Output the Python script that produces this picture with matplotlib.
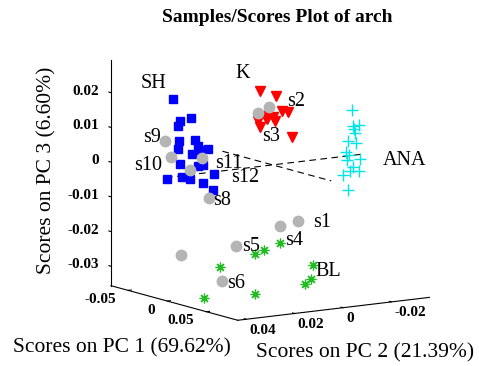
import numpy as np
import matplotlib
matplotlib.use('Agg')
import matplotlib.pyplot as plt
from mpl_toolkits.mplot3d import proj3d
from matplotlib.transforms import IdentityTransform

plt.rcParams['font.family'] = ['Liberation Serif', 'DejaVu Serif']

# ---------------- data (PC1, PC2, PC3 scores) ----------------
sh_pc1 = [0.004, -0.003, 0.006, -0.005, 0.002, -0.007, 0.000, 0.008, -0.004, 0.003,
          -0.002, 0.005, -0.006, 0.001, 0.007, -0.001, 0.004, -0.005, 0.002, -0.003]
sh_pc2 = [0.0426, 0.0371, 0.0357, 0.0373, 0.0393, 0.0367, 0.0319, 0.0336, 0.0318, 0.0311,
          0.0259, 0.0397, 0.0287, 0.0289, 0.0264, 0.0431, 0.0389, 0.0326, 0.0292, 0.0237]
sh_pc3 = [0.0228, 0.0156, 0.0168, 0.0139, 0.0103, 0.0072, 0.0099, 0.0088, 0.0055, 0.0071,
          0.0066, 0.0038, 0.0016, 0.0025, 0.0000, -0.0005, -0.0001, -0.0016, -0.0027, -0.0054]

k_pc1 = [-0.060, -0.055, -0.062, -0.058, -0.064, -0.057, -0.061, -0.054, -0.059, -0.056, -0.063]
k_pc2 = [-0.0141, -0.0194, -0.0239, -0.0251, -0.0209, -0.0152, -0.0206, -0.0115, -0.0141, -0.0262, -0.0181]
k_pc3 = [0.0165, 0.0149, 0.0096, 0.0096, 0.0081, 0.0094, 0.0071, 0.0083, 0.0061, 0.0024, 0.0079]

ana_pc1 = [0.004, -0.002, 0.006, 0.001, 0.008, -0.004, 0.003, 0.005, -0.003, 0.007,
           0.000, 0.006, -0.001, 0.002, 0.004, -0.002]
ana_pc2 = [-0.0314, -0.0338, -0.0337, -0.0335, -0.0317, -0.0323, -0.0336, -0.0288, -0.0327, -0.0337,
           -0.0306, -0.0312, -0.0362, -0.0314, -0.0277, -0.0317]
ana_pc3 = [0.0133, 0.0083, 0.0091, 0.0076, 0.0071, 0.0040, 0.0036, 0.0017, 0.0000, -0.0008,
           -0.0011, -0.0027, -0.0047, -0.0042, -0.0050, -0.0100]

bl_pc1 = [0.072, 0.068, 0.075, 0.066, 0.070, 0.074, 0.069, 0.073, 0.045]
bl_pc2 = [0.0203, 0.0256, 0.0315, 0.0431, 0.0059, 0.0082, 0.0091, 0.0309, 0.0429]
bl_pc3 = [-0.0163, -0.0182, -0.0185, -0.0219, -0.0241, -0.0275, -0.0294, -0.0300, -0.0319]

sample_names = ['s1', 's2', 's3', 's4', 's5', 's6', 's7', 's8', 's9', 's10', 's11', 's12']
sample_pc1 = [0.040, -0.045, -0.040, 0.045, 0.040, 0.050, 0.015, 0.010, -0.010, -0.005, 0.000, 0.005]
sample_pc2 = [0.0025, -0.0131, -0.0068, 0.0113, 0.0280, 0.0370, 0.0428, 0.0297, 0.0414, 0.0402, 0.0290, 0.0358]
sample_pc3 = [-0.0135, 0.0127, 0.0119, -0.0140, -0.0185, -0.0273, -0.0214, -0.0065, 0.0096, 0.0053, 0.0045, 0.0019]
sample_shown = [True, True, True, True, True, True, False, True, True, True, True, True]

xlim = (-0.072, 0.090)
ylim = (0.0435, -0.0357)   # PC2 reversed
zlim = (-0.0356, 0.0295)
xticks = [-0.05, 0, 0.05]
xticklabels = ['-0.05', '0', '0.05']
yticks = [0.04, 0.02, 0, -0.02]
yticklabels = ['0.04', '0.02', '0', '-0.02']
zticks = [-0.03, -0.02, -0.01, 0, 0.01, 0.02]
zticklabels = ['-0.03', '-0.02', '-0.01', '0', '0.01', '0.02']

# label offsets (pixels, x right / y down) and alignment -- styling only
label_off = [(15, 1), (18, -6), (4, 23), (5, 14), (6, 1), (5, 2), (0, 0), (5, 2),
             (-4, -4), (-9, 8), (13, 6), (41, 8)]
label_ha = ['left'] * 8 + ['right', 'right', 'left', 'left']

W, H = 479, 366
fig = plt.figure(figsize=(W / 100, H / 100), dpi=100)
ax = fig.add_axes([0, 0, 1, 1], projection='3d', proj_type='ortho')
ax.set_box_aspect((1, 1, 1), zoom=1)
ax.view_init(elev=10.4, azim=-33.5)
ax.set_xlim(*xlim)
ax.set_ylim(*ylim)
ax.set_zlim(*zlim)

for a in (ax.xaxis, ax.yaxis, ax.zaxis):
    a.set_pane_color((1, 1, 1, 0))
    a.pane.set_edgecolor((1, 1, 1, 0))
    a.line.set_color('black')
    a.line.set_linewidth(0.8)
    a._axinfo['tick']['inward_factor'] = 0.0
    a._axinfo['tick']['outward_factor'] = 0.2
    a._axinfo['tick']['linewidth'] = {True: 0.8, False: 0.5}
    a._axinfo['tick']['color'] = 'black'
    a.set_tick_params(which='both', labelbottom=False, labeltop=False)
    a.label.set_visible(False)
    a.offsetText.set_visible(False)
ax.grid(False)
ax.zaxis.set_ticks_position('upper')
ax.zaxis.set_label_position('upper')

ax.set_xticks(xticks)
ax.set_yticks(yticks)
ax.set_zticks(zticks)

# zero lines spanning the data range
all_pc1 = np.concatenate([sh_pc1, k_pc1, ana_pc1, bl_pc1, sample_pc1])
all_pc2 = np.concatenate([sh_pc2, k_pc2, ana_pc2, bl_pc2, sample_pc2])
ax.plot([all_pc1.min(), all_pc1.max()], [0, 0], [0, 0], color='black', lw=0.8, ls=(0, (6, 4)))
ax.plot([0, 0], [all_pc2.min(), all_pc2.max()], [0, 0], color='black', lw=0.8, ls=(0, (6, 4)))

ax.plot(sh_pc1, sh_pc2, sh_pc3, ls='none', marker='s', ms=6, color='#0000ff', mec='#0000ff')
ax.plot(k_pc1, k_pc2, k_pc3, ls='none', marker='v', ms=7, color='#ff0000', mec='#ff0000')
ax.plot(ana_pc1, ana_pc2, ana_pc3, ls='none', marker='+', ms=8, mew=1.0, color='#00e5e5')
ax.plot(bl_pc1, bl_pc2, bl_pc3, ls='none', marker=(8, 2, 0), ms=7, mew=0.9, color='#22bb22', mec='#22bb22')
ax.plot(sample_pc1, sample_pc2, sample_pc3, ls='none', marker='o', ms=7.5, color='#b4b4b4', mec='#b4b4b4')

# --- fit the 3D box to the reference layout ---
def to_px(x, y, z):
    xs, ys, _ = proj3d.proj_transform(np.array([x]), np.array([y]), np.array([z]), ax.get_proj())
    return ax.transData.transform(np.column_stack([xs, ys]))[0]

fig.canvas.draw()
pA = to_px(xlim[0], ylim[0], zlim[0])
pD = to_px(xlim[0], ylim[0], zlim[1])
L = np.hypot(*(pD - pA))
ax.set_box_aspect((1, 1, 1), zoom=226.0 / L)
fig.canvas.draw()
targets = np.array([[112.5, H - 286], [112.5, H - 60], [236.5, H - 320], [427.5, H - 297]], float)
cur = np.array([to_px(xlim[0], ylim[0], zlim[0]), to_px(xlim[0], ylim[0], zlim[1]),
                to_px(xlim[1], ylim[0], zlim[0]), to_px(xlim[1], ylim[1], zlim[0])])
d = (targets - cur).mean(axis=0)
ax.set_position([d[0] / W, d[1] / H, 1, 1])
fig.canvas.draw()


def label_at(x, y, z, s, dx, dy, **kw):
    """Place a 2D text at the projected position of a 3D data point, offset in pixels."""
    p = to_px(x, y, z)
    fig.text(p[0] + dx, p[1] - dy, s, transform=IdentityTransform(), **kw)


tick_font = dict(fontsize=11, fontweight='bold', va='center')
for v, s in zip(xticks, xticklabels):
    label_at(v, ylim[0], zlim[0], s, -12, 9, ha='right', **tick_font)
for v, s in zip(yticks, yticklabels):
    label_at(xlim[1], v, zlim[0], s, 3, 11, ha='left', **tick_font)
for v, s in zip(zticks, zticklabels):
    label_at(xlim[0], ylim[0], v, s, -12, -1.5, ha='right', **tick_font)

for i, name in enumerate(sample_names):
    if not sample_shown[i]:
        continue
    dx, dy = label_off[i]
    label_at(sample_pc1[i], sample_pc2[i], sample_pc3[i], name, dx, dy,
             ha=label_ha[i], va='center', fontsize=14.5)

fig.text(153 / W, 1 - 83 / H, 'SH', ha='center', va='center', fontsize=14.5)
fig.text(243 / W, 1 - 73 / H, 'K', ha='center', va='center', fontsize=14.5)
fig.text(405 / W, 1 - 161 / H, 'ANA', ha='center', va='center', fontsize=14.5)
fig.text(328 / W, 1 - 271 / H, 'BL', ha='center', va='center', fontsize=14.5)

fig.text(277 / W, 1 - 17 / H, 'Samples/Scores Plot of arch', ha='center', va='center',
         fontsize=14, fontweight='bold')
fig.text(122 / W, 1 - 348 / H, 'Scores on PC 1 (69.62%)', ha='center', va='center', fontsize=15.5)
fig.text(365 / W, 1 - 353 / H, 'Scores on PC 2 (21.39%)', ha='center', va='center', fontsize=15.5)
fig.text(47 / W, 1 - 170 / H, 'Scores on PC 3 (6.60%)', ha='center', va='center', fontsize=15.5,
         rotation=90)

fig.savefig('out.png', dpi=100)
